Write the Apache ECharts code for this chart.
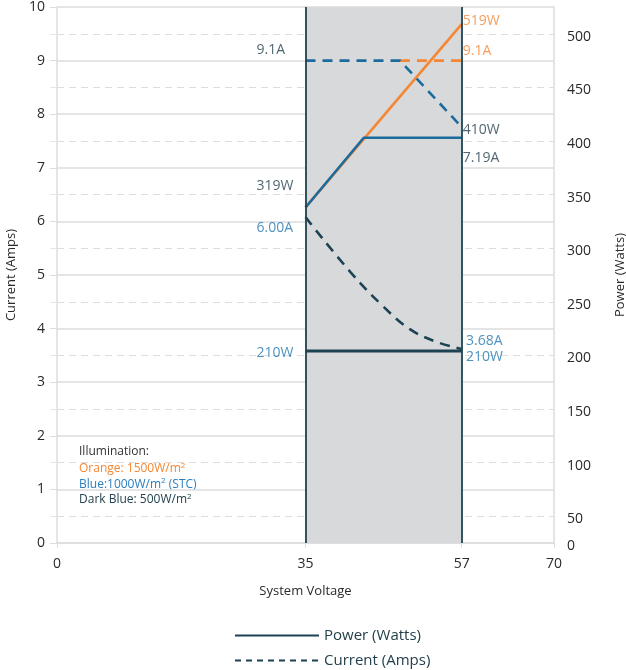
<!DOCTYPE html>
<html>
<head>
<meta charset="utf-8">
<script src="https://cdn.jsdelivr.net/npm/echarts@6/dist/echarts.min.js"></script>
<style>
  html, body { margin: 0; padding: 0; background: #fff; }
  #chart { width: 626px; height: 670px; }
</style>
</head>
<body>
<div id="chart"></div>
<script>
// ---------- data ----------
const voltageTicks = [0, 35, 57, 70];
const powerTickValues = [25, 50, 100, 150, 200, 250, 300, 350, 400, 450, 500];
const powerTickLabels = ['0', '50', '100', '150', '200', '250', '300', '350', '400', '450', '500'];

const orangePowerV = [35, 57];
const orangePowerW = [338, 509];
const bluePowerV = [35, 43.2, 57];
const bluePowerW = [338, 403, 403];
const darkPowerV = [35, 57];
const darkPowerW = [204, 204];

const blueCurrentV = [35, 48.3, 57];
const blueCurrentA = [9.0, 9.0, 7.76];
const orangeCurrentV = [48.3, 57];
const orangeCurrentA = [9.0, 9.0];
const darkCurrentV = [35, 41.3, 45.9, 49.7, 53.5, 57];
const darkCurrentA = [6.08, 5.06, 4.42, 3.99, 3.75, 3.62];

const windowV = [35, 57];

const leftNoteText = ['9.1A', '319W', '6.00A', '210W'];
const leftNoteV = [28.1, 28.1, 28.1, 28.1];
const leftNoteA = [9.2, 6.66, 5.88, 3.54];
const leftNoteColor = ['dark', 'dark', 'blueText', 'blueText'];

const rightNoteText = ['519W', '9.1A', '410W', '7.19A', '3.68A', '210W'];
const rightNoteV = [57.15, 57.15, 57.15, 57.15, 57.6, 57.6];
const rightNoteA = [9.74, 9.18, 7.7, 7.18, 3.77, 3.47];
const rightNoteColor = ['orange', 'orange', 'dark', 'dark', 'blueText', 'blueText'];

const legendNames = ['Power (Watts)', 'Current (Amps)'];

// ---------- styles ----------
const C = {
  orange: '#f58634',
  blue: '#1b6b9e',
  blueText: '#2277b0',
  dark: '#1d4352',
  darkText: '#24404c',
  grid: '#dddddd',
  shade: '#d8d9db',
  axisText: '#2a2a2a'
};
const FONT = 'Open Sans';

const zip = (xs, ys) => xs.map((x, i) => [x, ys[i]]);

function notes(xs, ys, texts, cols) {
  return xs.map((x, i) => ({
    value: [x, ys[i]],
    label: { formatter: texts[i], color: cols[i] === 'dark' ? C.darkText : C[cols[i]] }
  }));
}

const chart = echarts.init(document.getElementById('chart'), null, { renderer: 'canvas' });

const solid = (color) => ({ color: color, width: 2.6, type: 'solid' });
const dashed = (color) => ({ color: color, width: 2.6, type: [10, 7] });

function legendAt(name, top) {
  return {
    orient: 'vertical', left: 229, top: top,
    itemWidth: 84, itemHeight: 14, itemGap: 0,
    data: [name],
    itemStyle: { opacity: 0 },
    textStyle: { fontSize: 15, color: C.darkText, fontFamily: FONT },
    selectedMode: false
  };
}

function illumText(top, pieces, color) {
  return {
    type: 'text', left: 79, top: top, silent: true,
    style: {
      text: pieces,
      fontFamily: FONT, fontSize: 12, fill: color,
      rich: {
        m: { fontSize: 12, fill: color, fontFamily: FONT, lineHeight: 15 },
        s: { fontSize: 8, fill: color, fontFamily: FONT, lineHeight: 8, verticalAlign: 'top' }
      }
    }
  };
}

const option = {
  animation: false,
  textStyle: { fontFamily: FONT },
  grid: { left: 57, right: 72, top: 7, bottom: 127, containLabel: false, outerBoundsMode: 'none' },
  xAxis: {
    type: 'value', min: 0, max: 70,
    name: 'System Voltage', nameLocation: 'middle', nameGap: 42,
    nameTextStyle: { fontSize: 13, color: C.axisText, fontFamily: FONT },
    axisLine: { show: true, lineStyle: { color: C.grid, width: 1.5 } },
    axisTick: { show: true, customValues: voltageTicks, length: 5, lineStyle: { color: C.grid } },
    axisLabel: { customValues: voltageTicks, fontSize: 14, color: C.axisText, margin: 14, fontFamily: FONT },
    splitLine: { show: false }
  },
  yAxis: [
    {
      type: 'value', min: 0, max: 10, interval: 1, position: 'left',
      name: 'Current (Amps)', nameLocation: 'middle', nameGap: 37, nameRotate: 90,
      nameTextStyle: { fontSize: 13, color: C.axisText, fontFamily: FONT },
      axisLine: { show: true, lineStyle: { color: C.grid, width: 1.5 } },
      axisTick: { show: true, length: 7, lineStyle: { color: C.grid } },
      minorTick: { show: true, splitNumber: 2, length: 7, lineStyle: { color: '#e6e6e6' } },
      axisLabel: { fontSize: 14, color: C.axisText, margin: 12, fontFamily: FONT },
      splitLine: { show: true, lineStyle: { color: C.grid, width: 1.5 } },
      minorSplitLine: { show: true, lineStyle: { color: C.grid, width: 1.2, type: [7, 5] } }
    },
    {
      type: 'value', min: 25, max: 525, position: 'right',
      name: 'Power (Watts)', nameLocation: 'middle', nameGap: 60, nameRotate: 90,
      nameTextStyle: { fontSize: 13, color: C.axisText, fontFamily: FONT },
      axisLine: { show: true, lineStyle: { color: C.grid, width: 1.5 } },
      axisTick: { show: false },
      axisLabel: {
        customValues: powerTickValues, fontSize: 14, color: C.axisText, margin: 13, fontFamily: FONT,
        verticalAlign: 'top', lineHeight: 6,
        formatter: (v) => { const i = powerTickValues.indexOf(v); return i >= 0 ? powerTickLabels[i] : ''; }
      },
      splitLine: { show: false }
    }
  ],
  legend: [legendAt(legendNames[0], 623), legendAt(legendNames[1], 648)],
  graphic: [
    illumText(446, '{m|Illumination:}', '#333333'),
    illumText(461.5, '{m|Orange: 1500W/m}{s|2}', C.orange),
    illumText(477, '{m|Blue:1000W/m}{s|2}{m| (STC)}', '#2a7ec0'),
    illumText(492.5, '{m|Dark Blue: 500W/m}{s|2}', '#24424f')
  ],
  series: [
    {
      name: 'window', type: 'line', data: [], yAxisIndex: 0, silent: true,
      markArea: {
        silent: true, itemStyle: { color: C.shade },
        data: [[{ xAxis: windowV[0] }, { xAxis: windowV[1] }]]
      },
      markLine: {
        silent: true, symbol: 'none', label: { show: false },
        lineStyle: { color: C.dark, width: 1.8, type: 'solid' },
        data: windowV.map(v => ({ xAxis: v }))
      }
    },
    { name: 'orangePower', type: 'line', yAxisIndex: 1, symbol: 'none', lineStyle: solid(C.orange), data: zip(orangePowerV, orangePowerW) },
    { name: 'orangeCurrent', type: 'line', yAxisIndex: 0, symbol: 'none', lineStyle: dashed(C.orange), data: zip(orangeCurrentV, orangeCurrentA) },
    { name: 'bluePower', type: 'line', yAxisIndex: 1, symbol: 'none', lineStyle: solid(C.blue), data: zip(bluePowerV, bluePowerW) },
    { name: 'blueCurrent', type: 'line', yAxisIndex: 0, symbol: 'none', lineStyle: dashed(C.blue), data: zip(blueCurrentV, blueCurrentA) },
    { name: 'darkPower', type: 'line', yAxisIndex: 1, symbol: 'none', lineStyle: { color: C.dark, width: 3 }, data: zip(darkPowerV, darkPowerW) },
    { name: 'darkCurrent', type: 'line', yAxisIndex: 0, symbol: 'none', smooth: 0.4, lineStyle: dashed(C.dark), data: zip(darkCurrentV, darkCurrentA) },
    {
      name: 'leftNotes', type: 'scatter', yAxisIndex: 0, symbolSize: 0, silent: true,
      label: { show: true, position: 'right', distance: 0, fontSize: 14, fontFamily: FONT },
      data: notes(leftNoteV, leftNoteA, leftNoteText, leftNoteColor)
    },
    {
      name: 'rightNotes', type: 'scatter', yAxisIndex: 0, symbolSize: 0, silent: true,
      label: { show: true, position: 'right', distance: 0, fontSize: 14, fontFamily: FONT },
      data: notes(rightNoteV, rightNoteA, rightNoteText, rightNoteColor)
    },
    { name: legendNames[0], type: 'line', symbol: 'none', data: [], color: C.dark, lineStyle: { color: C.dark, width: 3 } },
    { name: legendNames[1], type: 'line', symbol: 'none', data: [], color: C.dark, lineStyle: { color: C.dark, width: 3, type: [6, 5] } }
  ]
};

chart.setOption(option);
</script>
</body>
</html>
